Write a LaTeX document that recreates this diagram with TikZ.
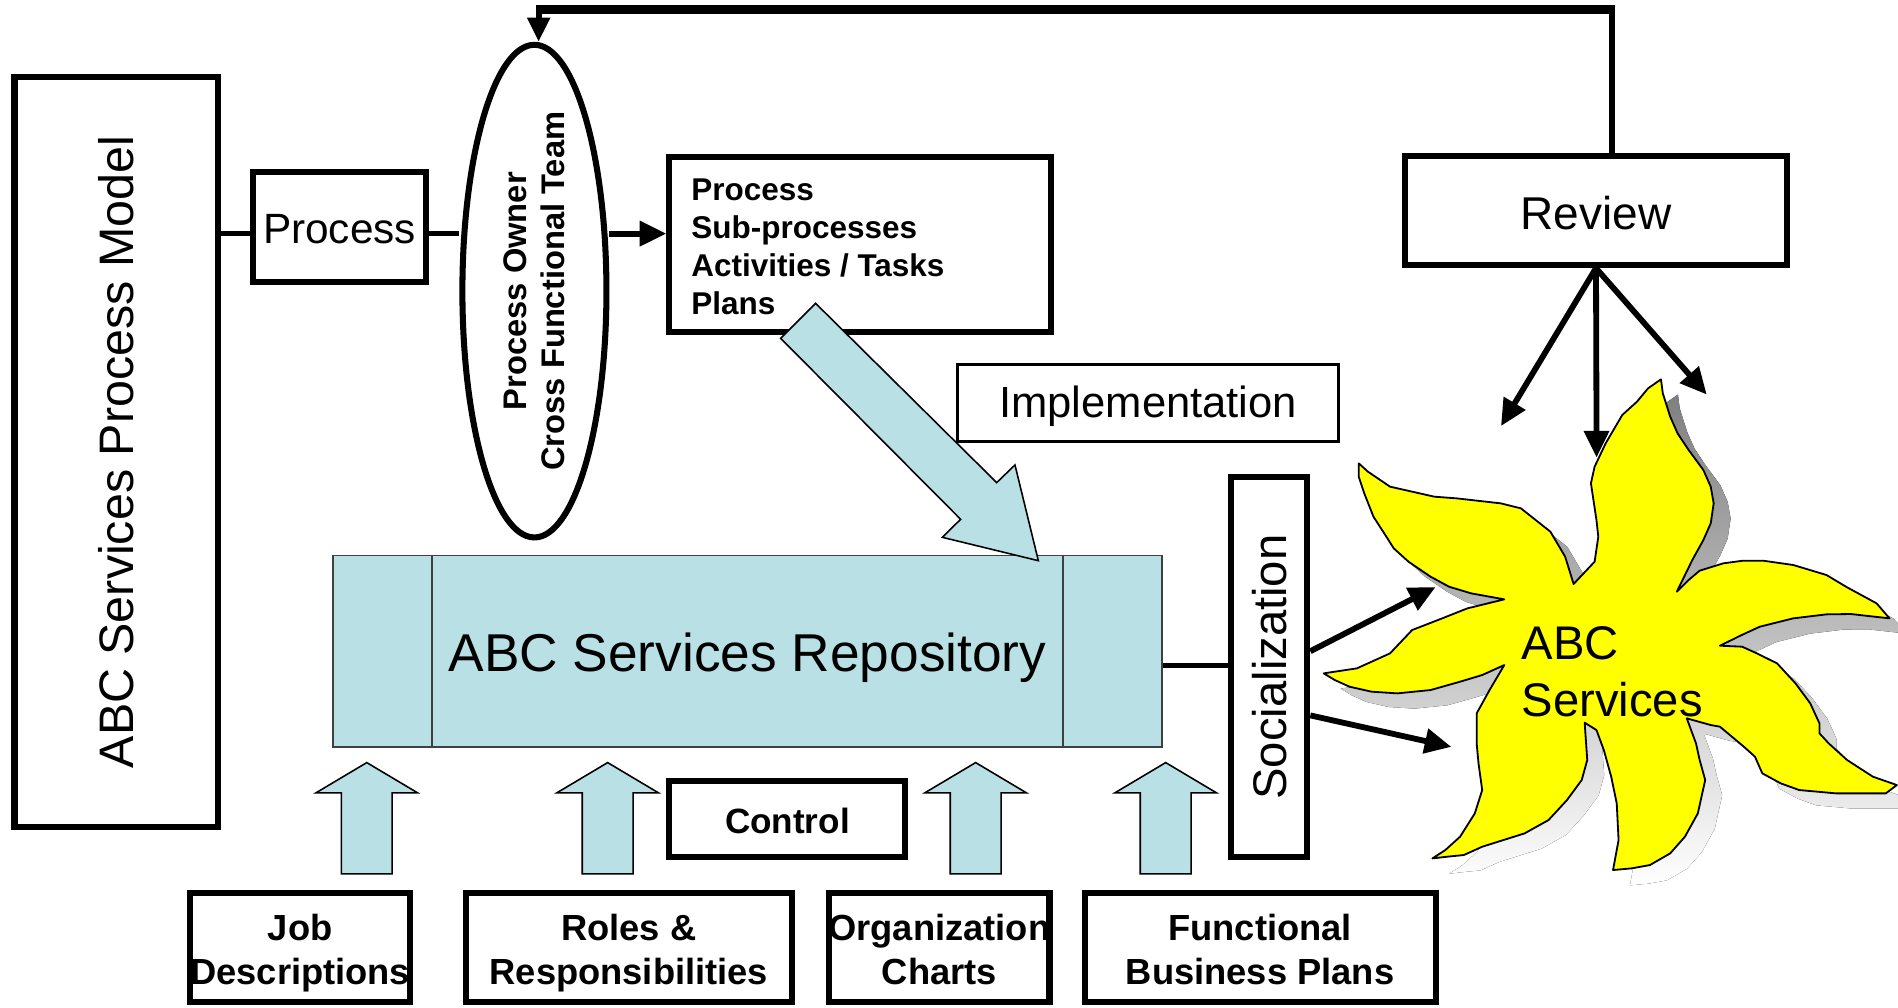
\documentclass[tikz,border=0pt]{standalone}
\usepackage{fontspec}
\setmainfont{Liberation Sans}
\usetikzlibrary{arrows.meta,shapes.geometric,calc}
\definecolor{paleblue}{RGB}{185,224,228}
\definecolor{shade}{RGB}{128,128,128}
\definecolor{sunyellow}{RGB}{255,255,0}

% one upward block arrow, centred on the given x
\newcommand\blockup[1]{%
  \draw[blockarrow] (#1-42,655) -- (#1,630) -- (#1+42,655) -- (#1+21,655)
    -- (#1+21,722) -- (#1-21,722) -- (#1-21,655) -- cycle;}

% outline of the eight-armed burst
\newcommand\burstpath{%
  (925,58) -- (930,100) -- (950,170) -- (970,220) -- (1000,270) -- (1040,330) -- (1060,380)
  -- (1068,430) -- (1060,490) -- (1040,540) -- (1010,600) -- (968,695)
  -- (1000,660) -- (1030,632) -- (1094,610) -- (1148,602) -- (1202,602) -- (1284,615)
  -- (1374,645) -- (1430,682) -- (1510,730) -- (1545,775)
  -- (1440,762) -- (1374,763) -- (1284,775) -- (1193,800) -- (1144,825) -- (1085,857)
  -- (1145,860) -- (1185,880) -- (1240,910) -- (1290,970) -- (1330,1030) -- (1355,1090)
  -- (1355,1120) -- (1380,1150) -- (1430,1200) -- (1500,1250) -- (1565,1275)
  -- (1535,1300) -- (1400,1300) -- (1300,1290) -- (1250,1270) -- (1200,1240) -- (1180,1190)
  -- (1150,1160) -- (1085,1100) -- (1060,1095) -- (995,1075)
  -- (1020,1150) -- (1030,1200) -- (1045,1260) -- (1025,1360) -- (990,1430) -- (950,1480)
  -- (895,1515) -- (845,1525) -- (795,1530)
  -- (810,1440) -- (805,1330) -- (790,1250) -- (770,1170) -- (750,1110) -- (718,1088)
  -- (725,1200) -- (710,1260) -- (670,1320) -- (620,1380) -- (555,1420) -- (440,1460)
  -- (390,1485) -- (345,1490) -- (305,1495)
  -- (340,1470) -- (380,1430) -- (420,1360) -- (440,1290) -- (430,1210) -- (425,1150)
  -- (425,1060) -- (460,990) -- (500,915)
  -- (440,945) -- (380,965) -- (300,990) -- (210,1000) -- (140,995) -- (80,980) -- (40,960) -- (10,940)
  -- (100,925) -- (190,880) -- (250,810) -- (320,780) -- (400,745) -- (500,718)
  -- (410,700) -- (350,680) -- (300,650) -- (240,605) -- (200,565) -- (180,530) -- (145,470)
  -- (120,400) -- (105,350) -- (105,310)
  -- (130,335) -- (190,380) -- (310,410) -- (370,415) -- (490,430) -- (545,445) -- (625,515)
  -- (665,590) -- (688,672)
  -- (745,605) -- (755,530) -- (750,480) -- (735,370) -- (745,320) -- (775,250) -- (820,165)
  -- (860,125) -- (890,85) -- cycle}

\begin{document}
\begin{tikzpicture}[x=1pt,y=-1pt,
  box/.style={draw, line width=5pt, inner sep=0pt, align=center},
  thinbox/.style={draw, line width=2.4pt, inner sep=0pt, align=center},
  link/.style={line width=4.5pt},
  arr/.style={line width=4.8pt, -{Triangle[length=22pt,width=20pt]}},
  blockarrow/.style={draw=black, line width=1.3pt, fill=paleblue, line join=miter},
  plain/.style={font=\fontsize{#1pt}{#1pt}\selectfont},
  heavy/.style={font=\fontsize{#1pt}{#1pt}\selectfont\bfseries},
  inputtext/.style={align=center, inner sep=0pt, font=\fontsize{30pt}{36pt}\selectfont\bfseries}
]
\useasboundingbox (0,0) rectangle (1568,832);
\fill[white] (0,0) rectangle (1568,832);

% ---- left column and top row ----
\node[box, minimum width=168pt, minimum height=619pt] (model) at (96,373.5) {};
\node[plain=40, rotate=90] at (model.center) {ABC Services Process Model};

\node[box, minimum width=143pt, minimum height=91pt] (proc) at (280.5,187.5) {};
\node[plain=35] at ([yshift=-2pt]proc.center) {Process};

\node[box, ellipse, minimum width=119pt, minimum height=407pt] (team) at (441.5,240.5) {};
\node[rotate=90, align=center, font=\fontsize{27pt}{31pt}\selectfont\bfseries]
  at (team.center) {Process Owner\\Cross Functional Team};

\node[box, minimum width=315pt, minimum height=144pt] (plan) at (710.5,202) {};
\node[anchor=west, align=left, inner sep=0pt,
      font=\fontsize{26pt}{31.5pt}\selectfont\bfseries] (plantext) at (571,204)
  {Process\\Sub-processes\\Activities / Tasks\\Plans};

\coordinate (ln) at (0,193);
\draw[link] (model.east |- ln) -- (proc.west |- ln);
\draw[link] (proc.east |- ln) -- (team.west |- ln);
\draw[arr] (team.east |- ln) -- (plan.west |- ln);

% ---- review and feedback loop ----
\node[box, minimum width=315pt, minimum height=90pt] (review) at (1318.5,174) {};
\node[plain=38] at ([yshift=-2pt]review.center) {Review};
\coordinate (loopR) at (1331.5,8);
\coordinate (loopL) at (445,8);
\draw[line width=5pt] ([xshift=13pt]review.north) -- (loopR);
\draw[line width=7.5pt] ([xshift=2.5pt]loopR) -- (loopL);
\draw[line width=5pt, -{Triangle[length=20pt,width=18pt]}]
  ([yshift=3.5pt]loopL) -- (team.north -| loopL);

% ---- implementation ----
\node[thinbox, minimum width=315pt, minimum height=64pt] (impl) at (948.5,333) {};
\node[plain=36] at ([yshift=-3pt]impl.center) {Implementation};

% ---- repository ----
\node[draw=black!75, line width=1.3pt, fill=paleblue, minimum width=685pt, minimum height=158pt,
      inner sep=0pt] (repo) at (617.5,538) {};
\draw[black!75, line width=1.3pt] (357,459) -- (357,617) (878,459) -- (878,617);
\node[plain=44] (repotext) at (617.5,543) {ABC Services Repository};

% diagonal block arrow from the plan box into the repository
\draw[blockarrow] (673.8,250.6) -- (823.4,398.7) -- (838.5,384.1) -- (857.8,463.2)
  -- (778.5,443.9) -- (793.6,429.0) -- (644.9,279.5) -- cycle;

% ---- socialization ----
\node[box, minimum width=63pt, minimum height=314pt] (social) at (1048.5,551) {};
\node[plain=39, rotate=90] at (social.center) {Socialization};
\coordinate (sl) at (0,550);
\draw[link] (repo.east |- sl) -- (social.west |- sl);

% ---- ABC Services burst ----
\begin{scope}[shift={(1104.5,310)}, xscale=0.3045, yscale=0.2754]
  \fill[shade] \burstpath;
\end{scope}
\begin{scope}[shift={(1090.5,297.4)}, xscale=0.3045, yscale=0.2754]
  \filldraw[fill=sunyellow, draw=black, line width=1.5pt, line join=round] \burstpath;
\end{scope}
\node[anchor=west, align=left, inner sep=0pt, font=\fontsize{39pt}{47pt}\selectfont]
  (abc) at (1257,555) {ABC\\Services};

\coordinate (s1) at (1186,485);
\coordinate (s2) at (1199,617);
\draw[arr] (social.east |- 0,538) -- (s1);
\draw[arr] (social.east |- 0,591) -- (s2);

\coordinate (r1) at (1240,352);
\coordinate (r2) at (1319,378);
\coordinate (r3) at (1410,326);
\draw[arr] (review.south) -- (r1);
\draw[arr] (review.south) -- (r2);
\draw[arr] (review.south) -- (r3);

% ---- inputs at the bottom ----
\blockup{303}
\blockup{502}
\blockup{806}
\blockup{963}

\node[box, minimum width=195pt, minimum height=63pt] (control) at (650.5,676.5) {};
\node[heavy=29] at ([yshift=-1.5pt]control.center) {Control};

\begin{scope}[every node/.append style={minimum height=90pt}]
  \node[box, minimum width=182pt] (job) at (248,783) {};
  \node[box, minimum width=269pt] (roles) at (519.5,783) {};
  \node[box, minimum width=182pt] (org) at (776,783) {};
  \node[box, minimum width=290pt] (func) at (1041,783) {};
\end{scope}
\node[inputtext] at ([yshift=-4.8pt]job.center) {Job\strut\\Descriptions\strut};
\node[inputtext] at ([yshift=-4.8pt]roles.center) {Roles \&\strut\\Responsibilities\strut};
\node[inputtext] at ([yshift=-4.8pt]org.center) {Organization\strut\\Charts\strut};
\node[inputtext] at ([yshift=-4.8pt]func.center) {Functional\strut\\Business Plans\strut};
\end{tikzpicture}
\end{document}
